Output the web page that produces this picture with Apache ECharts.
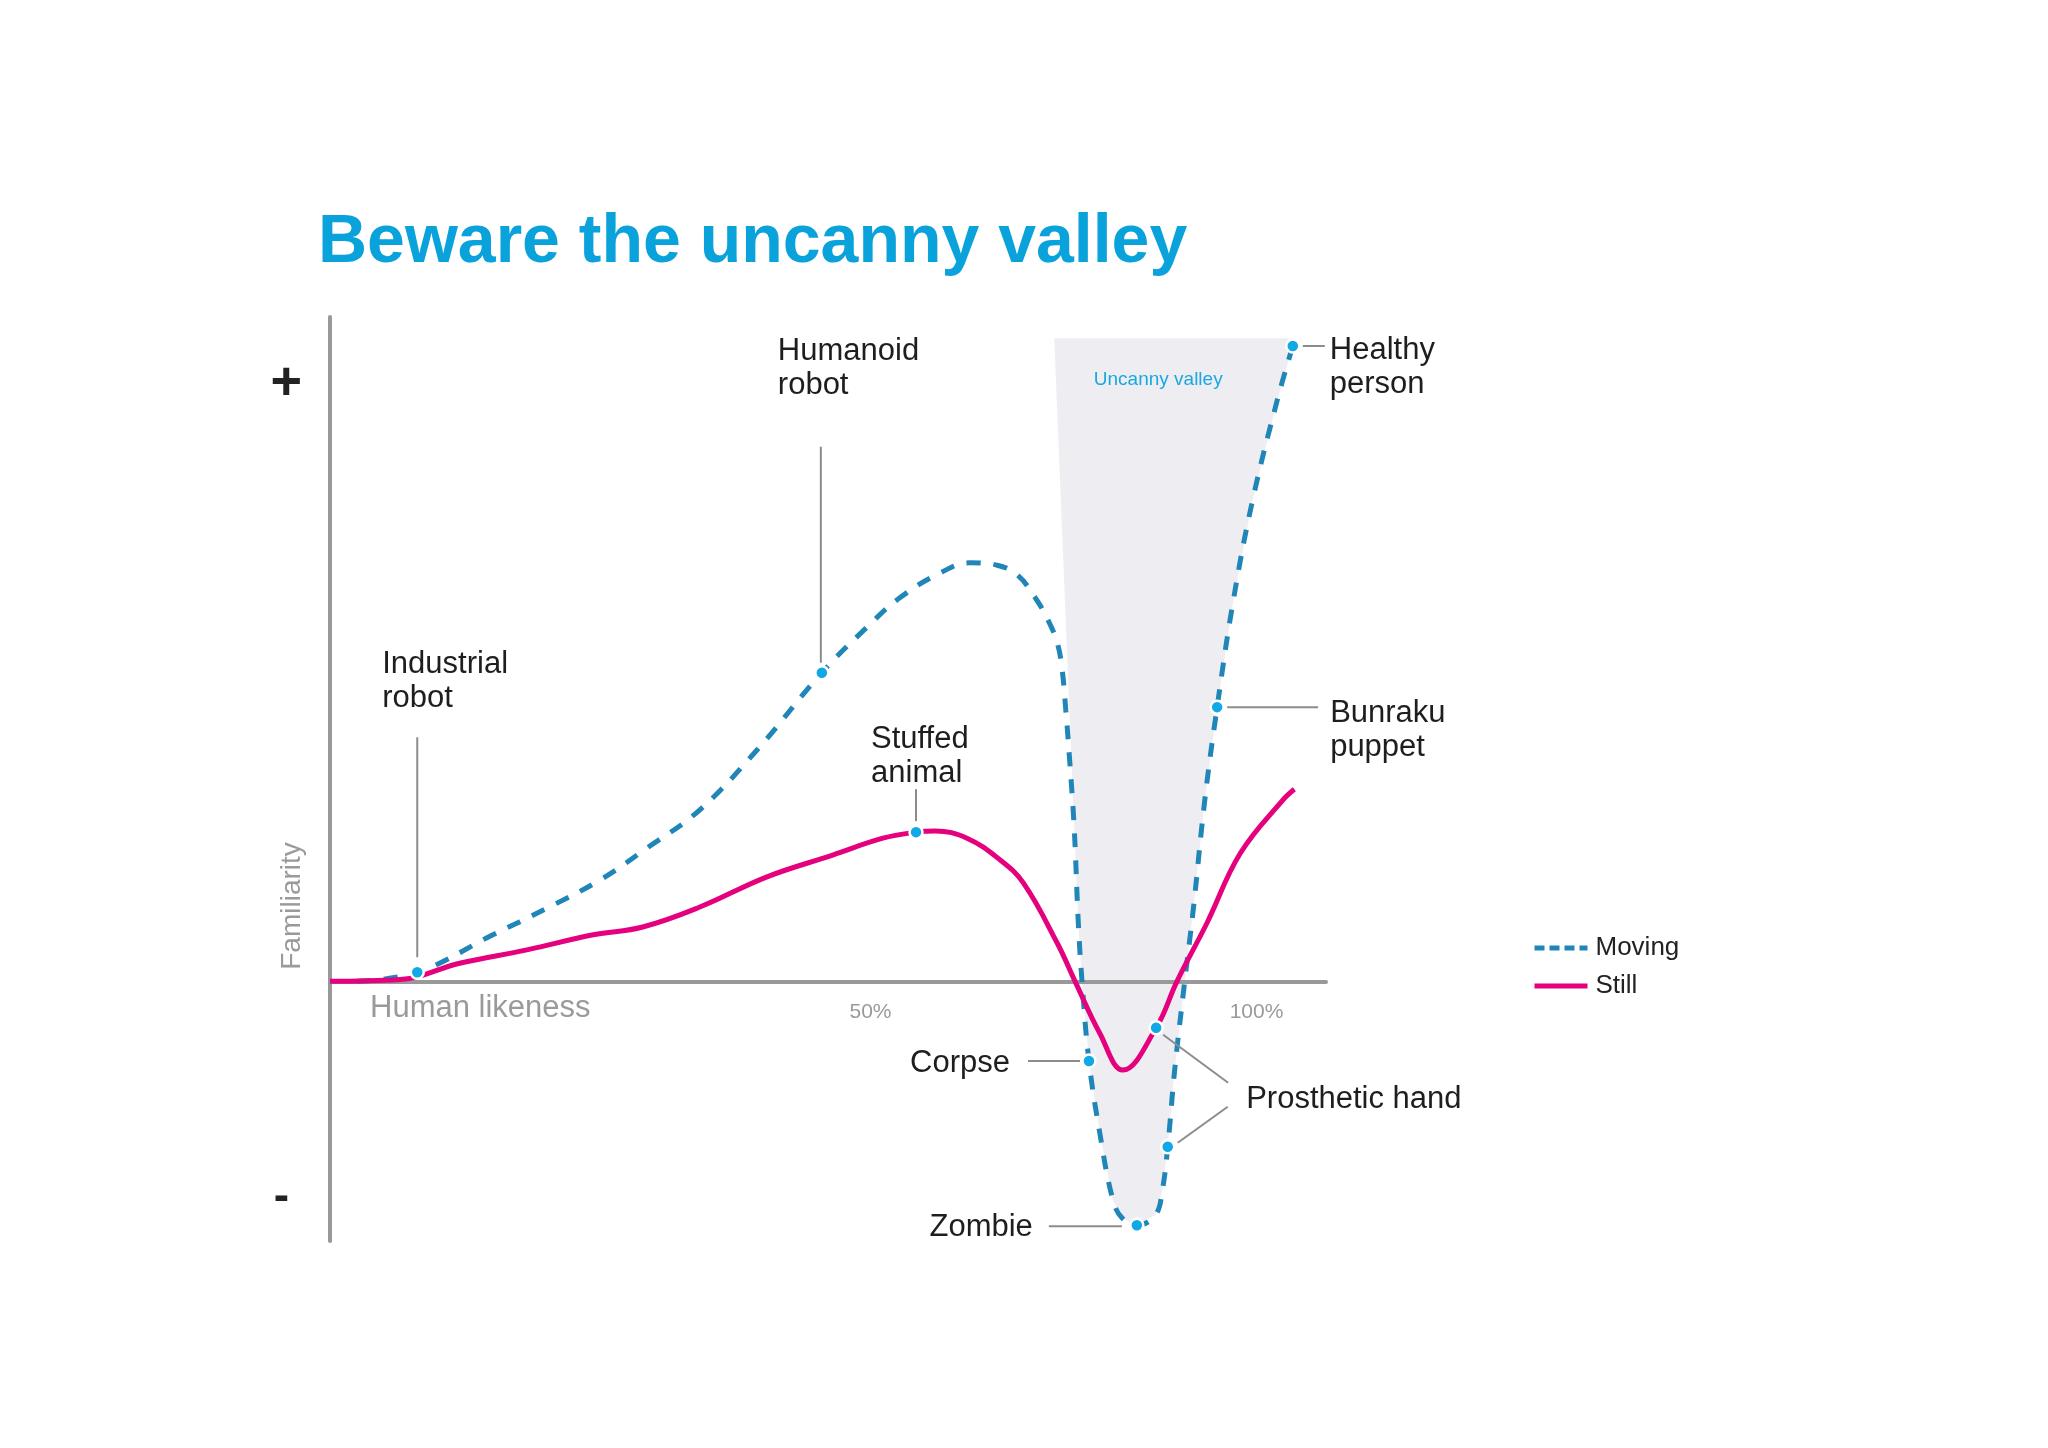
<!DOCTYPE html>
<html>
<head>
<meta charset="utf-8">
<style>
  html, body { margin: 0; padding: 0; background: #ffffff; }
  #chart { width: 2048px; height: 1448px; }
</style>
<script src="https://cdn.jsdelivr.net/npm/echarts@6/dist/echarts.min.js"></script>
</head>
<body>
<div id="chart"></div>
<script>
// ---------- DATA ----------
// Human likeness (x, %) and familiarity (y, arbitrary units)
const movingX = [-16.5, -8.7, 1.1, 8.1, 15.0, 21.1, 27.9, 35.3, 43.7, 49.6, 53.8, 59.0, 62.9, 66.4, 69.0, 71.3, 73.0, 74.2, 74.8, 75.3, 75.8, 76.4, 76.9, 77.4, 78.3, 79.7, 81.4, 82.6, 84.5, 86.9, 87.8, 88.5, 89.4, 90.7, 91.8, 93.3, 94.9, 97.0, 99.5, 102.7, 104.7];
const movingY = [0, 1.5, 7.7, 12.1, 16.8, 22.1, 28.4, 38.3, 51.1, 58.7, 63.5, 67.6, 69.3, 68.9, 67.3, 63.6, 59.8, 56.0, 51.9, 44.9, 36.6, 25.1, 10.2, 0, -13.2, -25.1, -36.2, -39.2, -40.4, -38.7, -34.6, -27.4, -14.7, 0, 11.8, 30.0, 45.4, 63.1, 79.7, 96.3, 105.2];

const stillX = [-20, -10.9, -3.2, 5.5, 14.1, 20.5, 27.9, 36.6, 45.1, 51.6, 55.9, 58.4, 62.5, 66.8, 69.8, 74.2, 76.5, 79.7, 82.7, 87.0, 89.7, 93.6, 97.9, 103.4, 104.9];
const stillY = [0, 0.3, 3.0, 5.2, 7.7, 9.0, 12.3, 17.3, 20.9, 23.7, 24.7, 24.9, 23.7, 20.1, 16.3, 6.3, 0, -8.6, -14.7, -7.7, 0, 9.7, 21.2, 30.0, 31.8];

const annotationNames = ['Industrial robot', 'Humanoid robot', 'Stuffed animal', 'Healthy person', 'Bunraku puppet', 'Corpse', 'Zombie', 'Prosthetic hand', 'Prosthetic hand (moving)'];
const annotationX = [-8.7, 43.7, 55.9, 104.7, 94.9, 78.3, 84.5, 87.0, 88.5];
const annotationY = [1.5, 51.1, 24.7, 105.2, 45.4, -13.2, -40.4, -7.7, -27.4];

// uncanny valley band: top edge and where it joins the moving curve
const valleyTopY = 106.5;
const valleyTopLeftX = 73.8;
const valleyTopRightX = 104.1;
const valleyJoinIndex = 21;

const xTickValues = [50, 100];
const xTickLabels = ['50%', '100%'];
const yTickValues = [100, -35];
const yTickLabels = ['+', '-'];

const seriesNames = ['Moving', 'Still'];
const titleText = 'Beware the uncanny valley';
const yAxisTitle = 'Familiarity';
const xAxisTitle = 'Human likeness';
const valleyLabel = 'Uncanny valley';

// ---------- LAYOUT / STYLE ----------
const FONT = '"Liberation Sans", Arial, Helvetica, sans-serif';
const annotationLayout = [
  { text: 'Industrial\nrobot', leads: [[0, -15, 0, -235]], tx: -35, ty: -291, align: 'left' },
  { text: 'Humanoid\nrobot', leads: [[-1, -10, -1, -226]], tx: -44, ty: -304, align: 'left' },
  { text: 'Stuffed\nanimal', leads: [[0, -11, 0, -43]], tx: -45, ty: -76, align: 'left' },
  { text: 'Healthy\nperson', leads: [[10, 0, 32, 0]], tx: 37, ty: 21, align: 'left' },
  { text: 'Bunraku\npuppet', leads: [[10, 0, 101, 0]], tx: 113, ty: 23, align: 'left' },
  { text: 'Corpse', leads: [[-9, 0, -61, 0]], tx: -79, ty: 2, align: 'right' },
  { text: 'Zombie', leads: [[-15, 1, -88, 1]], tx: -104, ty: 2, align: 'right' },
  { text: 'Prosthetic hand', leads: [[7, 7, 72, 55]], tx: 90, ty: 72, align: 'left' },
  { text: '', leads: [[10, -4, 60, -40]], tx: 0, ty: 0, align: 'left' }
];

const movingData = movingX.map((x, i) => [x, movingY[i]]);
const stillData = stillX.map((x, i) => [x, stillY[i]]);
const annotationData = annotationX.map((x, i) => ({ name: annotationNames[i], value: [x, annotationY[i]] }));

function valleyPolygon() {
  const pts = [[valleyTopLeftX, valleyTopY], [valleyTopRightX, valleyTopY]];
  for (let i = movingData.length - 1; i >= valleyJoinIndex; i--) pts.push(movingData[i]);
  return pts;
}

const Y_MIN = -43, Y_MAX = 110;
const GRID = { left: 330, top: 317, right: 722, bottom: 207 };
const gridH = 1448 - GRID.top - GRID.bottom;
// move the x axis (line + labels) up to the zero line
const xAxisOffset = -gridH * (0 - Y_MIN) / (Y_MAX - Y_MIN);

const chart = echarts.init(document.getElementById('chart'), null, { renderer: 'canvas' });

const option = {
  backgroundColor: '#ffffff',
  animation: false,
  grid: GRID,
  xAxis: {
    type: 'value', min: -20, max: 109, z: 1,
    offset: xAxisOffset,
    axisLine: { show: true, onZero: false, lineStyle: { color: '#999999', width: 4 } },
    axisTick: { show: false },
    splitLine: { show: false },
    axisLabel: {
      customValues: xTickValues,
      formatter: v => xTickLabels[xTickValues.indexOf(v)] || '',
      color: '#9a9a9a', fontSize: 21, margin: 20, fontFamily: FONT
    }
  },
  yAxis: {
    type: 'value', min: Y_MIN, max: Y_MAX, z: 1,
    axisLine: { show: true, onZero: false, lineStyle: { color: '#999999', width: 4 } },
    axisTick: { show: false },
    splitLine: { show: false },
    axisLabel: {
      customValues: yTickValues,
      formatter: v => {
        const t = yTickLabels[yTickValues.indexOf(v)] || '';
        return t === '+' ? '{p|+}' : '{m|' + t + '}';
      },
      margin: 28,
      rich: {
        p: { fontSize: 54, fontWeight: 'bold', color: '#222222', fontFamily: FONT, padding: [14, 0, 0, 0] },
        m: { fontSize: 46, fontWeight: 'bold', color: '#222222', fontFamily: FONT, padding: [10, 13, 0, 0] }
      }
    }
  },
  legend: {
    orient: 'vertical', left: 1532, top: 933, padding: 0,
    itemWidth: 53, itemHeight: 30, itemGap: 8,
    itemStyle: { opacity: 0, color: 'rgba(0,0,0,0)', borderWidth: 0 },
    lineStyle: { width: 5 },
    textStyle: { fontSize: 26, color: '#222222', fontFamily: FONT, padding: [0, 0, 0, 3], lineHeight: 30 },
    data: [
      { name: seriesNames[0], lineStyle: { type: [10, 5], width: 5 } },
      { name: seriesNames[1], lineStyle: { type: 'solid', width: 5 } }
    ]
  },
  graphic: [
    { type: 'text', x: 318, y: 243, style: { text: titleText, fill: '#0aa2da', fontSize: 68, fontWeight: 'bold', fontFamily: FONT, align: 'left', verticalAlign: 'middle' } },
    { type: 'text', x: 292, y: 906, rotation: Math.PI / 2, style: { text: yAxisTitle, fill: '#9a9a9a', fontSize: 28, fontFamily: FONT, align: 'center', verticalAlign: 'middle' } },
    { type: 'text', x: 370, y: 1008, style: { text: xAxisTitle, fill: '#9a9a9a', fontSize: 31, fontFamily: FONT, align: 'left', verticalAlign: 'middle' } }
  ],
  series: [
    {
      name: 'valley', type: 'custom', z: 0, silent: true,
      data: [[0]],
      renderItem: (params, api) => {
        const pts = valleyPolygon().map(p => api.coord(p));
        const tl = pts[0];
        return {
          type: 'group',
          children: [
            { type: 'polygon', shape: { points: pts }, style: { fill: '#eeeef2' } },
            { type: 'text', x: tl[0] + 104, y: tl[1] + 42, style: { text: valleyLabel, fill: '#19a8e0', fontSize: 19, fontFamily: FONT, align: 'center', verticalAlign: 'middle' } }
          ]
        };
      }
    },
    {
      name: seriesNames[0], type: 'line', data: movingData, z: 2,
      smooth: 0.4, symbol: 'none',
      lineStyle: { color: '#2086b8', width: 5, type: [14, 13] },
      itemStyle: { color: '#2086b8' }
    },
    {
      name: seriesNames[1], type: 'line', data: stillData, z: 3,
      smooth: 0.4, symbol: 'none',
      lineStyle: { color: '#e5007d', width: 5, type: 'solid' },
      itemStyle: { color: '#e5007d' }
    },
    {
      name: 'annotations', type: 'custom', z: 5, silent: true,
      data: annotationData,
      renderItem: (params, api) => {
        const p = api.coord([api.value(0), api.value(1)]);
        const L = annotationLayout[params.dataIndex];
        const children = [];
        L.leads.forEach(l => children.push({
          type: 'line',
          shape: { x1: p[0] + l[0], y1: p[1] + l[1], x2: p[0] + l[2], y2: p[1] + l[3] },
          style: { stroke: '#8c8c8c', lineWidth: 2 }
        }));
        if (L.text) children.push({
          type: 'text', x: p[0] + L.tx, y: p[1] + L.ty,
          style: { text: L.text, fill: '#1e1e1e', fontSize: 31, fontFamily: FONT, align: L.align, verticalAlign: 'middle', lineHeight: 34 }
        });
        children.push({
          type: 'circle', shape: { cx: p[0], cy: p[1], r: 6.5 },
          style: { fill: '#10a8e5', stroke: '#ffffff', lineWidth: 2.5 }
        });
        return { type: 'group', children };
      }
    }
  ]
};
chart.setOption(option);
</script>
</body>
</html>
